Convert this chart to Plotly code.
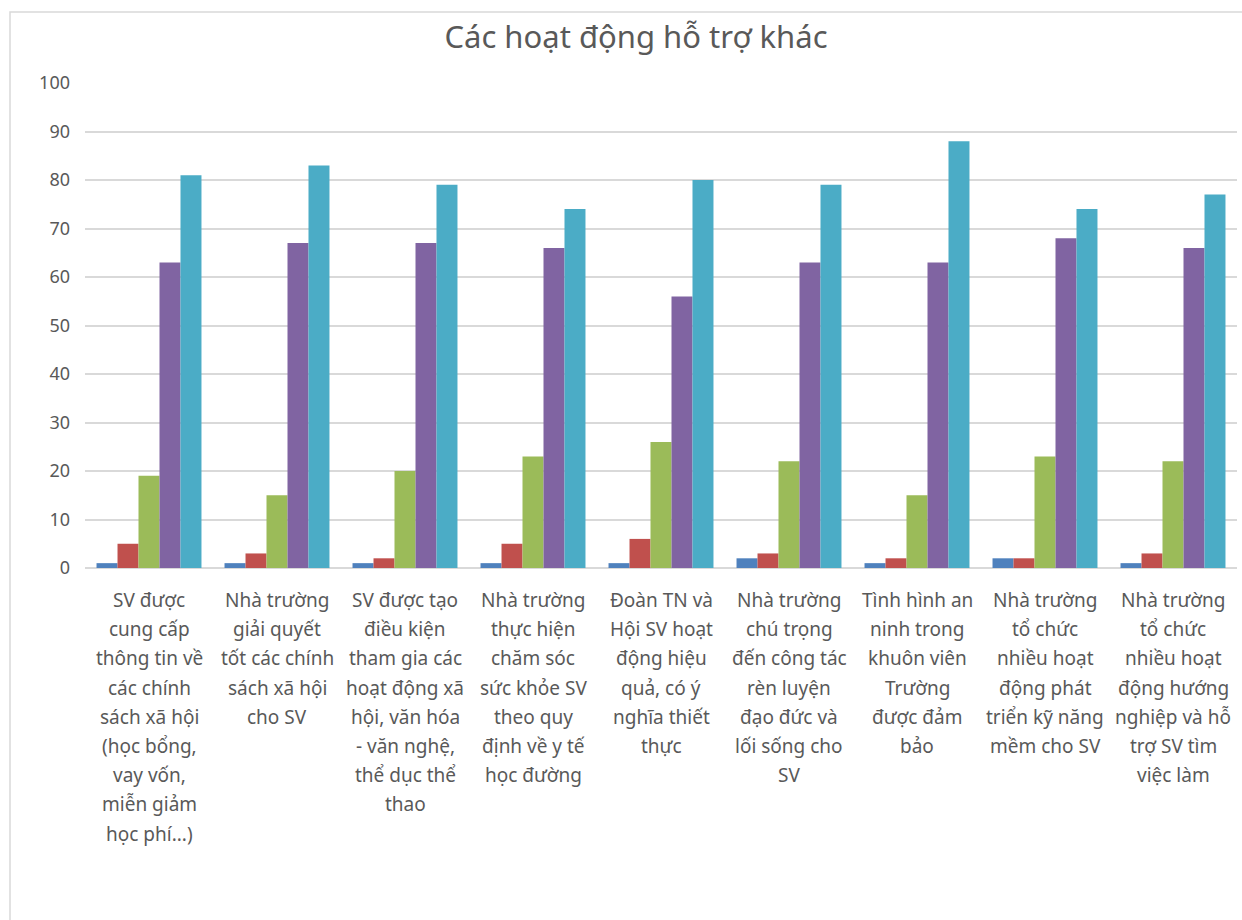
import plotly.graph_objects as go

title = "Các hoạt động hỗ trợ khác"

categories = [
    "SV được\ncung cấp\nthông tin về\ncác chính\nsách xã hội\n(học bổng,\nvay vốn,\nmiễn giảm\nhọc phí...)",
    "Nhà trường\ngiải quyết\ntốt các chính\nsách xã hội\ncho SV",
    "SV được tạo\nđiều kiện\ntham gia các\nhoạt động xã\nhội, văn hóa\n- văn nghệ,\nthể dục thể\nthao",
    "Nhà trường\nthực hiện\nchăm sóc\nsức khỏe SV\ntheo quy\nđịnh về y tế\nhọc đường",
    "Đoàn TN và\nHội SV hoạt\nđộng hiệu\nquả, có ý\nnghĩa thiết\nthực",
    "Nhà trường\nchú trọng\nđến công tác\nrèn luyện\nđạo đức và\nlối sống cho\nSV",
    "Tình hình an\nninh trong\nkhuôn viên\nTrường\nđược đảm\nbảo",
    "Nhà trường\ntổ chức\nnhiều hoạt\nđộng phát\ntriển kỹ năng\nmềm cho SV",
    "Nhà trường\ntổ chức\nnhiều hoạt\nđộng hướng\nnghiệp và hỗ\ntrợ SV tìm\nviệc làm",
]

series_names = ["Mức 1", "Mức 2", "Mức 3", "Mức 4", "Mức 5"]
s1 = [1, 1, 1, 1, 1, 2, 1, 2, 1]
s2 = [5, 3, 2, 5, 6, 3, 2, 2, 3]
s3 = [19, 15, 20, 23, 26, 22, 15, 23, 22]
s4 = [63, 67, 67, 66, 56, 63, 63, 68, 66]
s5 = [81, 83, 79, 74, 80, 79, 88, 74, 77]
colors = ["#4F81BD", "#C0504D", "#9BBB59", "#8064A2", "#4BACC6"]

y_ticks = [0, 10, 20, 30, 40, 50, 60, 70, 80, 90, 100]

FONT = "Noto Sans"
GREY = "#595959"

keys = [c.replace("\n", " ") for c in categories]

fig = go.Figure()
for name, vals, col in zip(series_names, [s1, s2, s3, s4, s5], colors):
    fig.add_trace(go.Bar(x=keys, y=vals, name=name, marker=dict(color=col, line=dict(width=0))))

annotations = []
for key, cat in zip(keys, categories):
    for i, line in enumerate(cat.split("\n")):
        annotations.append(dict(
            x=key, xref="x", y=0, yref="paper", yshift=-32 - 29.2 * i,
            yanchor="middle", xanchor="center", showarrow=False,
            text=line, font=dict(family=FONT, size=19, color=GREY),
        ))

PW = 1242 - 85 - 5
fig.update_layout(
    width=1242, height=920,
    margin=dict(l=85, r=5, t=83, b=352),
    paper_bgcolor="white", plot_bgcolor="white",
    showlegend=False,
    barmode="group", bargap=0.18, bargroupgap=0,
    title=dict(text=title, x=636 / 1242, xref="container", xanchor="center",
               y=1 - 37 / 920, yanchor="middle",
               font=dict(family=FONT, size=31, color=GREY)),
    annotations=annotations,
    font=dict(family=FONT, color=GREY),
    shapes=[dict(type="rect", xref="paper", yref="paper",
                 x0=(10 - 85) / PW, x1=1.2, y0=-1.0, y1=1 + (83 - 12) / 485,
                 line=dict(color="#D9D9D9", width=1.5), fillcolor="rgba(0,0,0,0)", layer="below")],
)
fig.update_xaxes(showticklabels=False, showgrid=False, showline=False, zeroline=False, ticks="")
fig.update_yaxes(range=[0, 100], tickvals=y_ticks, showgrid=True, gridcolor="#D9D9D9", gridwidth=1.5,
                 zeroline=True, zerolinecolor="#D9D9D9", zerolinewidth=1.5, showline=False,
                 ticks="", ticklabelstandoff=14, tickfont=dict(family=FONT, size=18, color=GREY))

fig.write_html("out.html")
